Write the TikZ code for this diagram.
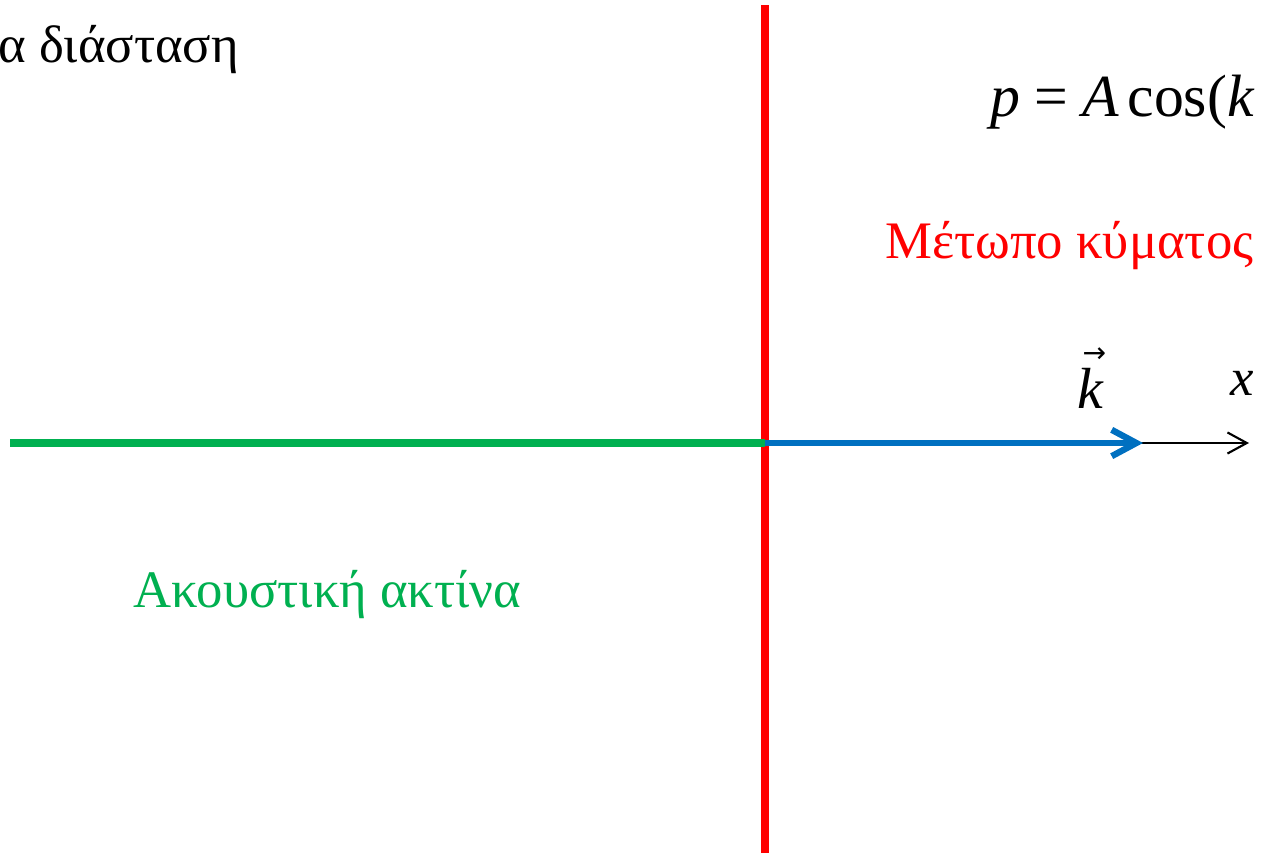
\documentclass[tikz,border=0pt]{standalone}
\usepackage{fontspec}
\setmainfont{Liberation Serif}
\newfontfamily\arrowfont{DejaVu Sans}
\usetikzlibrary{arrows.meta}

\begin{document}
\begin{tikzpicture}[x=0.02cm, y=-0.02cm,
    label text/.style={anchor=base west, inner sep=0pt, font=\fontsize{30}{36}\selectfont},
    ray/.style={line width=4.5pt},
    axis barb/.style={-{Straight Barb[length=11pt, width=12pt]}},
    k barb/.style={-{Straight Barb[length=14pt, width=15pt]}}]
  \definecolor{front}{HTML}{FF0000}
  \definecolor{rayg}{HTML}{00B050}
  \definecolor{wavek}{HTML}{0070C0}
  \clip (0,0) rectangle (1261,852);
  \fill[white] (0,0) rectangle (1261,852);

  \coordinate (top) at (765,5);
  \coordinate (bottom) at (765,860);
  \coordinate (left) at (10,443);
  \coordinate (origin) at (765,443);
  \coordinate (ktip) at (1143,443);
  \coordinate (xtip) at (1249,443);

  % axis and wave front
  \draw[axis barb, line width=1.2pt] (origin) -- (xtip);
  \draw[ray, front] (top) -- (bottom);
  \draw[ray, rayg] (left) -- (origin);
  \draw[k barb, wavek, line width=3.6pt] (origin) -- (ktip);

  % labels
  \node[label text] (title) at (-2,62) {α διάσταση};
  \node[label text, font=\fontsize{34}{40}\selectfont] (wave) at (990,116)
    {\textit{p}\hspace{8pt}=\hspace{8pt}\textit{A}\hspace{5pt}cos(\textit{k}};
  \node[label text, text=front] (front label) at (885,258) {Μέτωπο κύματος};
  \node[label text, text=rayg] (ray label) at (133,607) {Ακουστική ακτίνα};
  \node[label text, font=\fontsize{33}{40}\selectfont] (k label) at (1077,408)
    {\rlap{\hspace{3pt}\raisebox{26pt}{\arrowfont\fontsize{16}{16}\selectfont →}}\textit{k}};
  \node[label text] (x label) at (1230,395) {\textit{x}};
\end{tikzpicture}
\end{document}
